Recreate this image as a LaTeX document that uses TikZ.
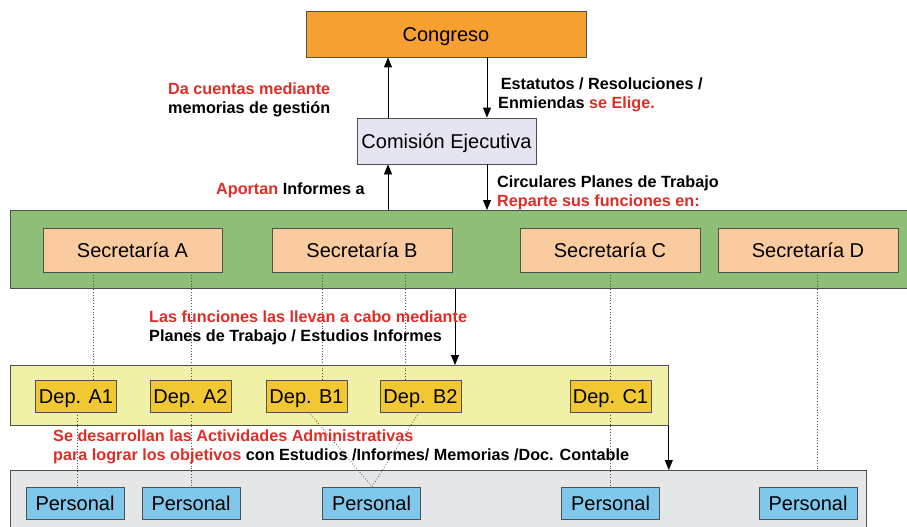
\documentclass[tikz,border=0pt]{standalone}
\usepackage{fontspec}
\setmainfont{Liberation Sans}
\usetikzlibrary{arrows.meta,calc}
\definecolor{congC}{RGB}{247,160,50}
\definecolor{comC}{RGB}{229,229,242}
\definecolor{greenC}{RGB}{143,191,118}
\definecolor{secC}{RGB}{249,203,158}
\definecolor{yelC}{RGB}{240,240,166}
\definecolor{depC}{RGB}{241,200,50}
\definecolor{grayC}{RGB}{228,230,232}
\definecolor{perC}{RGB}{127,200,236}
\definecolor{redC}{RGB}{222,45,38}
\definecolor{edgeC}{RGB}{80,80,80}
\newcommand{\rd}[1]{\textcolor{redC}{#1}}
\begin{document}
\begin{tikzpicture}[x=1pt,y=-1pt,
  box/.style={draw=edgeC,line width=0.8pt,rectangle,inner sep=0pt,text height=14.3pt,text depth=0pt,font=\fontsize{20}{24}\selectfont},
  band/.style={draw=edgeC,line width=0.8pt,rectangle,inner sep=0pt,anchor=north west},
  lbl/.style={inner sep=0pt,anchor=north west,align=left,font=\bfseries\fontsize{16.2}{18.5}\selectfont},
  arr/.style={line width=0.8pt,-{Triangle[length=10pt,width=8pt]}},
  dots/.style={line width=0.8pt,dotted,draw=edgeC}]
\useasboundingbox (0,0) rectangle (907,527);
% bands
\node[band,fill=greenC,minimum width=910pt,minimum height=78pt] (gband) at (10,210) {};
\node[band,fill=yelC,minimum width=658pt,minimum height=60pt] (yband) at (10,365) {};
\node[band,fill=grayC,minimum width=856pt,minimum height=70pt] (kband) at (10,470) {};
% top nodes
\node[box,fill=congC,minimum width=280pt,minimum height=46pt] (cong) at (446,34) {Congreso};
\node[box,fill=comC,minimum width=179pt,minimum height=46pt] (com) at (446.5,141) {Comisión Ejecutiva};
% secretarias
\tikzset{sec/.style={box,fill=secC,minimum width=180pt,minimum height=44pt}}
\node[sec,minimum width=179pt] (sA) at (132.5,250) {Secretaría A};
\node[sec] (sB) at (362,250) {Secretaría B};
\node[sec] (sC) at (610,250) {Secretaría C};
\node[sec] (sD) at (808,250) {Secretaría D};
% deps
\tikzset{dep/.style={box,fill=depC,minimum width=81pt,minimum height=32pt}}
\node[dep] (dA1) at (76,396) {Dep. A1};
\node[dep] (dA2) at (190.5,396) {Dep. A2};
\node[dep] (dB1) at (306.5,396) {Dep. B1};
\node[dep] (dB2) at (420.5,396) {Dep. B2};
\node[dep] (dC1) at (610.5,396) {Dep. C1};
% personal
\tikzset{per/.style={box,fill=perC,minimum width=98pt,minimum height=32pt}}
\node[per] (p1) at (75,503) {Personal};
\node[per] (p2) at (191,503) {Personal};
\node[per] (p3) at (371.5,503) {Personal};
\node[per] (p4) at (610.5,503) {Personal};
\node[per] (p5) at (808,503) {Personal};
% helper x positions
\coordinate (ux) at (388,0);
\coordinate (dx) at (487,0);
\coordinate (mx) at (455,0);
\coordinate (xa) at (93,0);
\coordinate (xa2) at (191,0);
\coordinate (xb) at (322,0);
\coordinate (xb2) at (405,0);
\coordinate (xc) at (610,0);
\coordinate (xd) at (817,0);
\coordinate (xp1) at (77,0);
\coordinate (xb1b) at (309,0);
\coordinate (xp3) at (372,0);
\coordinate (xb2b) at (419,0);
% main arrows
\draw[arr] (com.north -| ux) -- (cong.south -| ux);
\draw[arr] (cong.south -| dx) -- (com.north -| dx);
\draw[arr] (gband.north -| ux) -- (com.south -| ux);
\draw[arr] (com.south -| dx) -- (gband.north -| dx);
\draw[arr] (gband.south -| mx) -- (yband.north -| mx);
\draw[arr] (yband.south east) -- (kband.north -| yband.south east);
% dotted links
\draw[dots] (sA.south -| xa) -- (dA1.north -| xa);
\draw[dots] (sA.south -| xa2) -- (dA2.north -| xa2);
\draw[dots] (sB.south -| xb) -- (dB1.north -| xb);
\draw[dots] (sB.south -| xb2) -- (dB2.north -| xb2);
\draw[dots] (sC.south -| xc) -- (dC1.north -| xc);
\draw[dots] (sD.south -| xd) -- (kband.north -| xd);
\draw[dots] (dA1.south -| xp1) -- (p1.north -| xp1);
\draw[dots] (dA2.south -| xa2) -- (p2.north -| xa2);
\draw[dots] (dB1.south -| xb1b) -- (p3.north -| xp3);
\draw[dots] (dB2.south -| xb2b) -- (p3.north -| xp3);
\draw[dots] (dC1.south -| xc) -- (p4.north -| xc);
% labels
\node[lbl] (t1) at (168,83) {\rd{Da cuentas mediante}\\memorias de gestión};
\node[lbl] (t2) at (498,78) {\,Estatutos / Resoluciones /\\Enmiendas \rd{se Elige.}};
\node[lbl] (t3) at (216,183) {\rd{Aportan} Informes a};
\node[lbl] (t4) at (497,176) {Circulares Planes de Trabajo\\\rd{Reparte sus funciones en:}};
\node[lbl] (t5) at (149,311) {\rd{Las funciones las llevan a cabo mediante}\\Planes de Trabajo / Estudios Informes};
\node[lbl] (t6) at (53,430) {\rd{Se desarrollan las Actividades Administrativas}\\\rd{para lograr los objetivos} con Estudios /Informes/ Memorias /Doc. Contable};
\end{tikzpicture}
\end{document}
